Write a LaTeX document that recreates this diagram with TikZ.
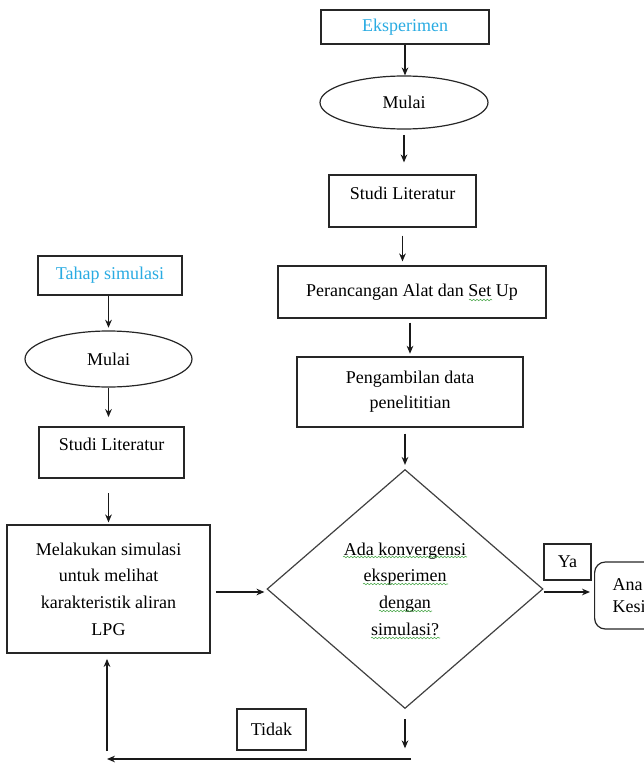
\documentclass[tikz,border=0pt]{standalone}
\usepackage{fontspec}
\setmainfont{Liberation Serif}
\usetikzlibrary{shapes.geometric, arrows.meta, positioning, decorations.pathmorphing}
\definecolor{titleblue}{RGB}{41,171,226}
\definecolor{wavegreen}{RGB}{70,165,70}
\tikzset{x=0.75pt, y=-0.75pt, % One unit is one pixel of the reference
  every node/.style={font=\fontsize{13.5}{19}\selectfont},
  box/.style={ % Plain process box
    draw=black!85,
    line width=0.9pt,
    align=center,
    inner sep=1pt},
  terminal/.style={ % Start ellipse
    ellipse,
    draw=black!85,
    line width=0.9pt,
    inner sep=0pt},
  decision/.style={ % Question diamond
    diamond,
    draw=black!75,
    line width=0.9pt,
    aspect=1.15,
    inner sep=0pt,
    align=center,
    font=\fontsize{13.5}{20}\selectfont},
  flow/.style={ % Arrows between steps
    draw=black!90,
    ->,>={Stealth[length=6pt, width=5pt]},
    line width=0.9pt},
  spell/.style={ % Green spell-check squiggle under a word
    draw=wavegreen,
    line width=0.4pt,
    decorate,
    decoration={snake, amplitude=0.6pt, segment length=2.6pt}}}

\begin{document}
\begin{tikzpicture}
  \useasboundingbox (0,0) rectangle (643,771);
  % experiment column
  \node[box, text=titleblue, minimum width=126pt, minimum height=25.5pt] (eks) at (405,27) {Eksperimen};
  \node[terminal, minimum width=126pt, minimum height=39.75pt] (mulaiE) at (404,102.5) {Mulai};
  \node[box, minimum width=110.25pt, minimum height=39pt, text depth=12pt] (studiE) at (402.5,201) {Studi Literatur};
  \node[box, minimum width=201pt, minimum height=39pt] (rancang) at (412,292) {Perancangan Alat dan Set Up};
  \node[box, minimum width=169.5pt, minimum height=52.5pt] (ambil) at (410,392) {Pengambilan data\\penelititian};
  \node[decision, minimum width=207pt, minimum height=179.25pt] (cek) at (405,589)
    {Ada konvergensi\\eksperimen\\dengan\\simulasi?};
  \node[box, minimum width=35.25pt, minimum height=27pt] (ya) at (567.5,562) {Ya};
  \node[box, rounded corners=8pt, anchor=west, text width=100pt, inner xsep=13.5pt, align=left,
    minimum height=50.25pt, font=\fontsize{13.5}{17}\selectfont] (hasil) at (594,595.5) {Ana\\Kesi};
  \node[box, minimum width=51.75pt, minimum height=30.75pt] (tidak) at (271.5,729.5) {Tidak};
  % simulation column
  \node[box, text=titleblue, minimum width=108pt, minimum height=29.25pt] (tahap) at (110,275.5) {Tahap simulasi};
  \node[terminal, minimum width=125.25pt, minimum height=42pt] (mulaiS) at (108.5,359) {Mulai};
  \node[box, minimum width=108.75pt, minimum height=38.25pt, text depth=12pt] (studiS) at (111.5,452.5) {Studi Literatur};
  \node[box, minimum width=152.25pt, minimum height=96pt, font=\fontsize{13.5}{20}\selectfont] (simul) at (108.5,589)
    {Melakukan simulasi\\untuk melihat\\karakteristik aliran\\LPG};
  \coordinate (balikR) at (411,759);
  \coordinate (balikL) at (107,759);

  % squiggles
  \draw[spell] ([shift={(57,8)}]rancang.center) -- ([shift={(80,8)}]rancang.center);
  \draw[spell] ([shift={(-62,-32)}]cek.center) -- ([shift={(62,-32)}]cek.center);
  \draw[spell] ([shift={(-42,-5)}]cek.center) -- ([shift={(43,-5)}]cek.center);
  \draw[spell] ([shift={(-26,22)}]cek.center) -- ([shift={(27,22)}]cek.center);
  \draw[spell] ([shift={(-34,49)}]cek.center) -- ([shift={(35,49)}]cek.center);

  \draw[flow] (eks.south) -- (eks.south |- mulaiE.north);
  \draw[flow, shorten <=4pt, shorten >=9pt] (mulaiE.south) -- (mulaiE.south |- studiE.north);
  \draw[flow, shorten <=6pt, shorten >=3pt] (studiE.south) -- (studiE.south |- rancang.north);
  \draw[flow, shorten <=3pt, shorten >=2pt] (ambil.north |- rancang.south) -- (ambil.north);
  \draw[flow, shorten <=4.5pt, shorten >=3pt] (ambil.south -| cek.north) -- (cek.north);
  \draw[flow, shorten >=3pt] ([yshift=-2.25pt]cek.east) -- ([yshift=-2.25pt]cek.east -| hasil.west);
  \draw[flow, shorten <=7.5pt, shorten >=8pt] (cek.south) -- (cek.south |- balikR);
  \draw[flow] (balikR) -- (balikL);
  \draw[flow, shorten <=6pt, shorten >=4pt] (balikL) -- (balikL |- simul.south);

  \draw[flow, shorten >=2pt] (tahap.south -| mulaiS.north) -- (mulaiS.north);
  \draw[flow, shorten >=7pt] (mulaiS.south) -- (mulaiS.south |- studiS.north);
  \draw[flow, shorten <=11pt, shorten >=1.5pt] (studiS.south -| simul.north) -- (simul.north);
  \draw[flow, shorten <=4pt, shorten >=1.5pt] ([yshift=-2.25pt]simul.east) -- ([yshift=-2.25pt]simul.east -| cek.west);
\end{tikzpicture}
\end{document}
